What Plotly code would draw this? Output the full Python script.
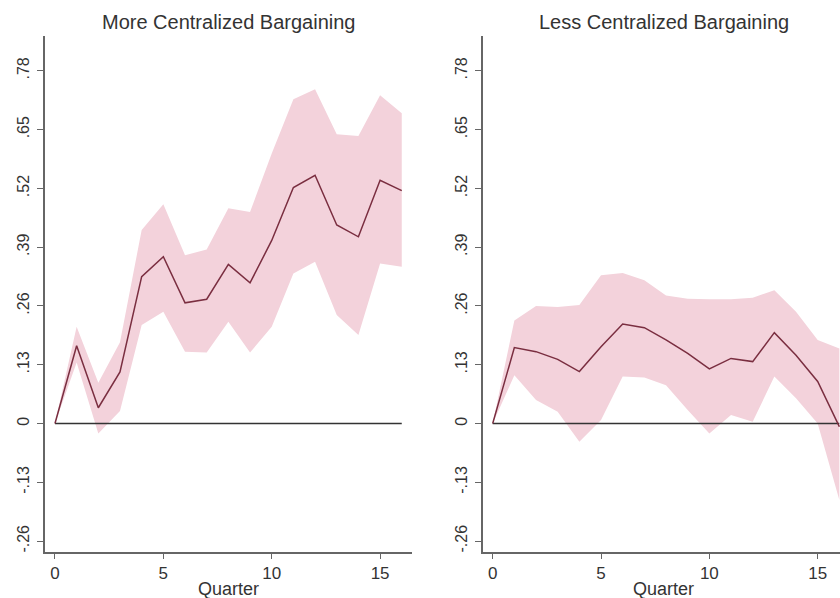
import plotly.graph_objects as go

quarters = list(range(17))

more_mean = [0, 0.172, 0.035, 0.114, 0.325, 0.369, 0.267, 0.275, 0.352, 0.311, 0.405,
             0.522, 0.549, 0.439, 0.413, 0.538, 0.515]
more_upper = [0, 0.214, 0.090, 0.180, 0.428, 0.485, 0.372, 0.385, 0.476, 0.468, 0.597,
              0.717, 0.739, 0.640, 0.636, 0.726, 0.686]
more_lower = [0, 0.135, -0.022, 0.028, 0.218, 0.247, 0.159, 0.157, 0.225, 0.157, 0.214,
              0.332, 0.358, 0.240, 0.196, 0.354, 0.347]

less_mean = [0, 0.168, 0.159, 0.142, 0.115, 0.170, 0.220, 0.212, 0.185, 0.155, 0.121,
             0.144, 0.137, 0.201, 0.151, 0.093, -0.007]
less_upper = [0, 0.228, 0.260, 0.258, 0.262, 0.328, 0.333, 0.317, 0.283, 0.276, 0.275,
              0.275, 0.278, 0.295, 0.247, 0.185, 0.166]
less_lower = [0, 0.107, 0.052, 0.026, -0.040, 0.008, 0.104, 0.102, 0.085, 0.030, -0.022,
              0.019, 0.004, 0.104, 0.056, 0.000, -0.169]

ytickvals = [-0.26, -0.13, 0, 0.13, 0.26, 0.39, 0.52, 0.65, 0.78]
yticktext = ["-.26", "-.13", "0", ".13", ".26", ".39", ".52", ".65", ".78"]
xtickvals = [0, 5, 10, 15]
titles = ["More Centralized Bargaining", "Less Centralized Bargaining"]

FILL = "#f3d2db"
LINE = "#7a2e40"
AXIS = "#666666"
TXT = "#333333"
FONT = "Liberation Sans, Arial, sans-serif"

fig = go.Figure()

panels = [(more_mean, more_upper, more_lower, "x", "y"),
          (less_mean, less_upper, less_lower, "x2", "y2")]
for mean, up, lo, xa, ya in panels:
    fig.add_trace(go.Scatter(x=quarters, y=up, mode="lines", line=dict(width=0, color=FILL),
                             xaxis=xa, yaxis=ya, showlegend=False, hoverinfo="skip"))
    fig.add_trace(go.Scatter(x=quarters, y=lo, mode="lines", line=dict(width=0, color=FILL),
                             fill="tonexty", fillcolor=FILL,
                             xaxis=xa, yaxis=ya, showlegend=False, hoverinfo="skip"))
    fig.add_trace(go.Scatter(x=[quarters[0], quarters[-1]], y=[0, 0], mode="lines",
                             line=dict(width=1.5, color="#333333"),
                             xaxis=xa, yaxis=ya, showlegend=False, hoverinfo="skip"))
    fig.add_trace(go.Scatter(x=quarters, y=mean, mode="lines", line=dict(width=1.5, color=LINE),
                             xaxis=xa, yaxis=ya, showlegend=False))

yax = dict(range=[-0.284, 0.857], tickvals=ytickvals, ticktext=yticktext, tickangle=-90,
           showgrid=False, zeroline=False, showline=True, linecolor=AXIS, linewidth=1.5,
           ticks="outside", ticklen=6, tickcolor=AXIS, tickwidth=1.2, ticklabelstandoff=2,
           tickfont=dict(family=FONT, size=16, color=TXT))
xax = dict(tickvals=xtickvals, showgrid=False, zeroline=False, showline=True, linecolor=AXIS,
           linewidth=1.5, ticks="outside", ticklen=5, tickcolor=AXIS, tickwidth=1.2,
           tickfont=dict(family=FONT, size=17, color=TXT))

fig.update_layout(
    width=840, height=598,
    margin=dict(l=45, r=0, t=36, b=46),
    paper_bgcolor="white", plot_bgcolor="white",
    xaxis=dict(domain=[0, 0.4613], range=[-0.46, 16.46], anchor="y", **xax),
    yaxis=dict(domain=[0, 1], anchor="x", **yax),
    xaxis2=dict(domain=[0.5506, 1], range=[-0.46, 16.03], anchor="y2", **xax),
    yaxis2=dict(domain=[0, 1], anchor="x2", **yax),
)

centers = [0.4613 / 2, (0.5506 + 1.0) / 2 + 0.003]
for cx, t in zip(centers, titles):
    fig.add_annotation(text=t, xref="paper", yref="paper", x=cx, y=1, xanchor="center",
                       yanchor="middle", yshift=14, showarrow=False,
                       font=dict(family=FONT, size=20, color=TXT))
    fig.add_annotation(text="Quarter", xref="paper", yref="paper", x=cx, y=0, xanchor="center",
                       yanchor="middle", yshift=-37, showarrow=False,
                       font=dict(family=FONT, size=18, color=TXT))

fig.write_html("out.html")
